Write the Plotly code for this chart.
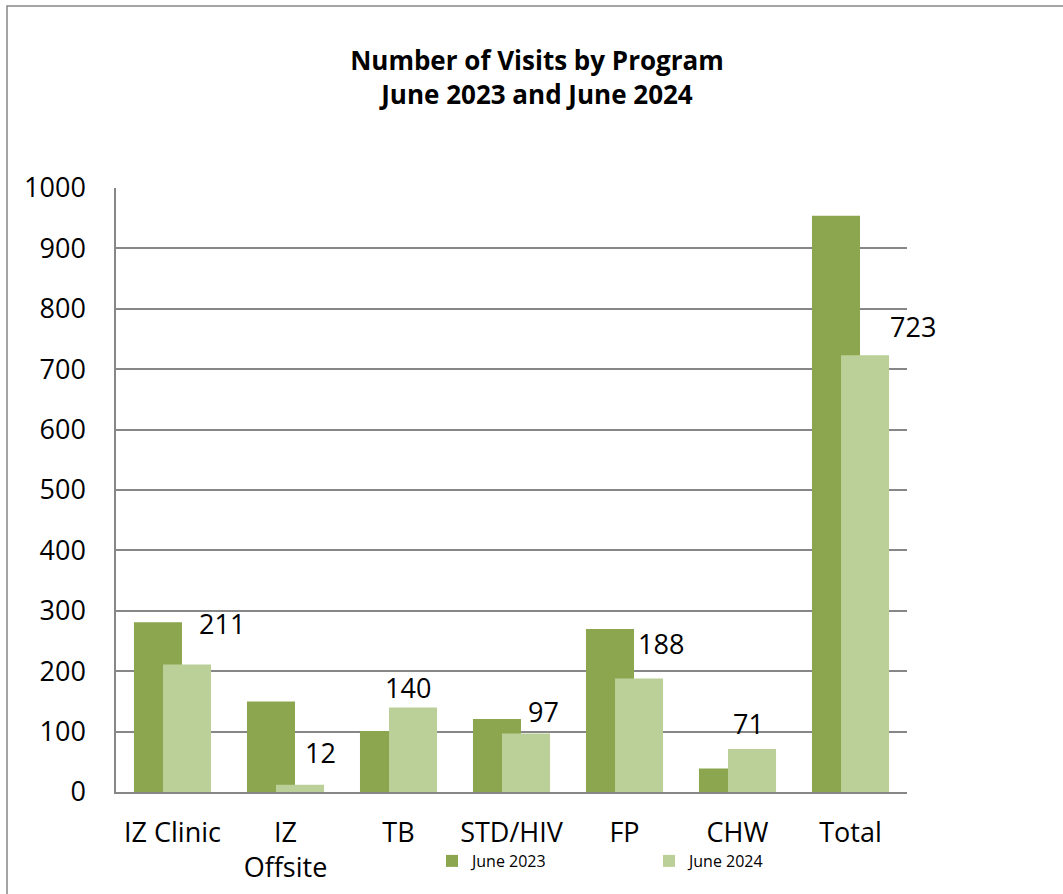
import plotly.graph_objects as go

categories = ["IZ Clinic", "IZ<br>Offsite", "TB", "STD/HIV", "FP", "CHW", "Total"]
june_2023 = [281, 150, 101, 121, 270, 39, 954]
june_2024 = [211, 12, 140, 97, 188, 71, 723]
series_names = ["June 2023", "June 2024"]
y_ticks = [0, 100, 200, 300, 400, 500, 600, 700, 800, 900, 1000]

# label placement (pixels) relative to category centre / bar top
label_xshift = [49.5, 34.5, 9.5, 31.5, 36.5, 10.5, 62.5]
label_yshift = [41, 32, 20, 22, 35, 26, 29]

FONT = "Open Sans, Carlito, Calibri, sans-serif"
DARK = "#8ba64e"
LIGHT = "#bbd098"

fig = go.Figure()
fig.add_trace(go.Bar(
    x=categories, y=june_2023, name=series_names[0],
    marker=dict(color=DARK, line=dict(width=0)),
    width=0.425, offset=-0.341,
))
fig.add_trace(go.Bar(
    x=categories, y=june_2024, name=series_names[1],
    marker=dict(color=LIGHT, line=dict(width=0)),
    width=0.425, offset=-0.084,
))

for c, v, dx, dy in zip(categories, june_2024, label_xshift, label_yshift):
    fig.add_annotation(
        x=c, y=v, xref="x", yref="y", text=str(v), showarrow=False,
        xshift=dx, yshift=dy, font=dict(family=FONT, size=27, color="#000000"),
    )

# outer chart border
fig.add_shape(
    type="rect", xref="paper", yref="paper",
    x0=(7 - 116) / 791, x1=(1075 - 116) / 791,
    y0=(792 - 905) / 604, y1=(792 - 6) / 604,
    line=dict(color="#878787", width=1.5), fillcolor="rgba(0,0,0,0)",
    layer="below",
)

fig.update_layout(
    width=1063, height=894,
    margin=dict(l=116, r=156, t=188, b=102, autoexpand=False),
    paper_bgcolor="white", plot_bgcolor="white",
    barmode="overlay",
    title=dict(
        text="<b>Number of Visits by Program<br>June 2023 and June 2024</b>",
        x=537 / 1063, xanchor="center", y=1 - 70 / 894, yanchor="middle",
        font=dict(family=FONT, size=26, color="#000000"),
    ),
    font=dict(family=FONT, color="#000000"),
    showlegend=True,
    legend=dict(
        orientation="h", x=(432 - 116) / 791, xanchor="left",
        y=-(861 - 792) / 604, yanchor="middle",
        font=dict(family=FONT, size=16, color="#000000"),
        entrywidth=172, entrywidthmode="pixels",
        bgcolor="rgba(0,0,0,0)", itemclick=False,
    ),
    xaxis=dict(
        range=[-0.5, len(categories) - 0.5],
        showline=True, linecolor="#878787", linewidth=1.5,
        showgrid=False, ticks="", tickfont=dict(family=FONT, size=27),
        ticklabelstandoff=16,
    ),
    yaxis=dict(
        range=[0, 1000], tickvals=y_ticks,
        showline=True, linecolor="#878787", linewidth=1.5,
        showgrid=True, gridcolor="#878787", gridwidth=1.5,
        zeroline=False, ticks="", tickfont=dict(family=FONT, size=27),
        ticklabelstandoff=23,
    ),
)

fig.write_html("out.html", post_script="document.body.style.margin='0';",
               config={"displayModeBar": False})
